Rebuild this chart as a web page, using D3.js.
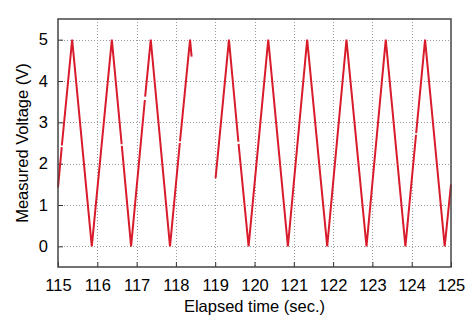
<!DOCTYPE html>
<html>
<head>
<meta charset="utf-8">
<script src="https://cdn.jsdelivr.net/npm/d3@7"></script>
<style>
  html, body { margin: 0; padding: 0; background: #fff; }
  svg { display: block; }
  text { font-family: "Liberation Sans", Arial, Helvetica, sans-serif; fill: #000; }
</style>
</head>
<body>
<svg id="chart" width="474" height="331"></svg>
<script>
// Sampled waveform vertices (seconds, volts); null marks a dropout in the record
const elapsed = [
  115.00, 115.095, null, 115.098, 115.36, 115.86, 116.37, 116.620, null, 116.624, 116.86,
  117.210, null, 117.218, 117.36, 117.85, 118.100, null, 118.104, 118.36, 118.40, null,
  119.01, 119.35, 119.590, null, 119.595, 119.85, 120.35, 120.85, 121.34, 121.85,
  122.34, 122.85, 123.34, 123.84, 124.110, null, 124.114, 124.34, 124.84, 125.00
];
const voltage = [
  1.42, 2.40, null, 2.44, 5.00, 0.00, 5.00, 2.47, null, 2.43, 0.00,
  3.54, null, 3.62, 5.00, 0.00, 2.50, null, 2.54, 5.00, 4.59, null,
  1.65, 5.00, 2.53, null, 2.48, 0.00, 5.00, 0.00, 5.00, 0.00,
  5.00, 0.00, 5.00, 0.00, 2.70, null, 2.74, 5.00, 0.00, 1.50
];
const xTicks = [115, 116, 117, 118, 119, 120, 121, 122, 123, 124, 125];
const yTicks = [0, 1, 2, 3, 4, 5];
const xDomain = [115, 125];
const yDomain = [-0.5, 5.5];

const svg = d3.select("#chart");
const margin = { left: 58, right: 23, top: 19, bottom: 64 };
const W = 474, H = 331;
const x = d3.scaleLinear().domain(xDomain).range([margin.left, W - margin.right]);
const y = d3.scaleLinear().domain(yDomain).range([H - margin.bottom, margin.top]);

const x0 = x.range()[0], x1 = x.range()[1];
const yb = y.range()[0], yt = y.range()[1];

// grid
const grid = svg.append("g").attr("stroke", "#9a9a9a").attr("stroke-width", 1)
  .attr("stroke-dasharray", "1,2");
grid.selectAll("line.gx").data(xTicks.slice(1, -1)).join("line")
  .attr("x1", d => Math.round(x(d)) + 0.5).attr("x2", d => Math.round(x(d)) + 0.5)
  .attr("y1", yt).attr("y2", yb);
grid.selectAll("line.gy").data(yTicks).join("line")
  .attr("y1", d => Math.round(y(d)) + 0.5).attr("y2", d => Math.round(y(d)) + 0.5)
  .attr("x1", x0).attr("x2", x1);

// axes with inward ticks
const xAxis = d3.axisBottom(x).tickValues(xTicks).tickSizeInner(-5).tickSizeOuter(0)
  .tickFormat(d3.format("d")).tickPadding(12);
const gx = svg.append("g").attr("transform", `translate(0,${yb})`).call(xAxis);
gx.select(".domain").remove();
gx.selectAll(".tick line").attr("stroke", "#333");
gx.selectAll("text").attr("font-size", 16.5).attr("dy", "0.71em")
  .style("font-family", "'Liberation Sans', Arial, sans-serif");

const yAxis = d3.axisLeft(y).tickValues(yTicks).tickSizeInner(-5).tickSizeOuter(0)
  .tickFormat(d3.format("d")).tickPadding(10);
const gy = svg.append("g").attr("transform", `translate(${x0},0)`).call(yAxis);
gy.select(".domain").remove();
gy.selectAll(".tick line").attr("stroke", "#333");
gy.selectAll("text").attr("font-size", 16.5)
  .style("font-family", "'Liberation Sans', Arial, sans-serif");

// waveform
const pts = elapsed.map((t, i) => ({ t, v: voltage[i] }));
const line = d3.line()
  .defined(d => d.t !== null && d.v !== null)
  .x(d => x(d.t)).y(d => y(d.v));
svg.append("path").datum(pts)
  .attr("fill", "none").attr("stroke", "#d81c2c").attr("stroke-width", 2)
  .attr("stroke-linejoin", "miter").attr("d", line);

// frame
svg.append("rect").attr("x", x0).attr("y", yt)
  .attr("width", x1 - x0).attr("height", yb - yt)
  .attr("fill", "none").attr("stroke", "#444").attr("stroke-width", 1.5);

// titles
svg.append("text").attr("x", (x0 + x1) / 2).attr("y", 312)
  .attr("text-anchor", "middle").attr("font-size", 16.5).text("Elapsed time (sec.)");
svg.append("text").attr("transform", `translate(28,${(yt + yb) / 2}) rotate(-90)`)
  .attr("text-anchor", "middle").attr("font-size", 16.5).text("Measured Voltage (V)");
</script>
</body>
</html>
